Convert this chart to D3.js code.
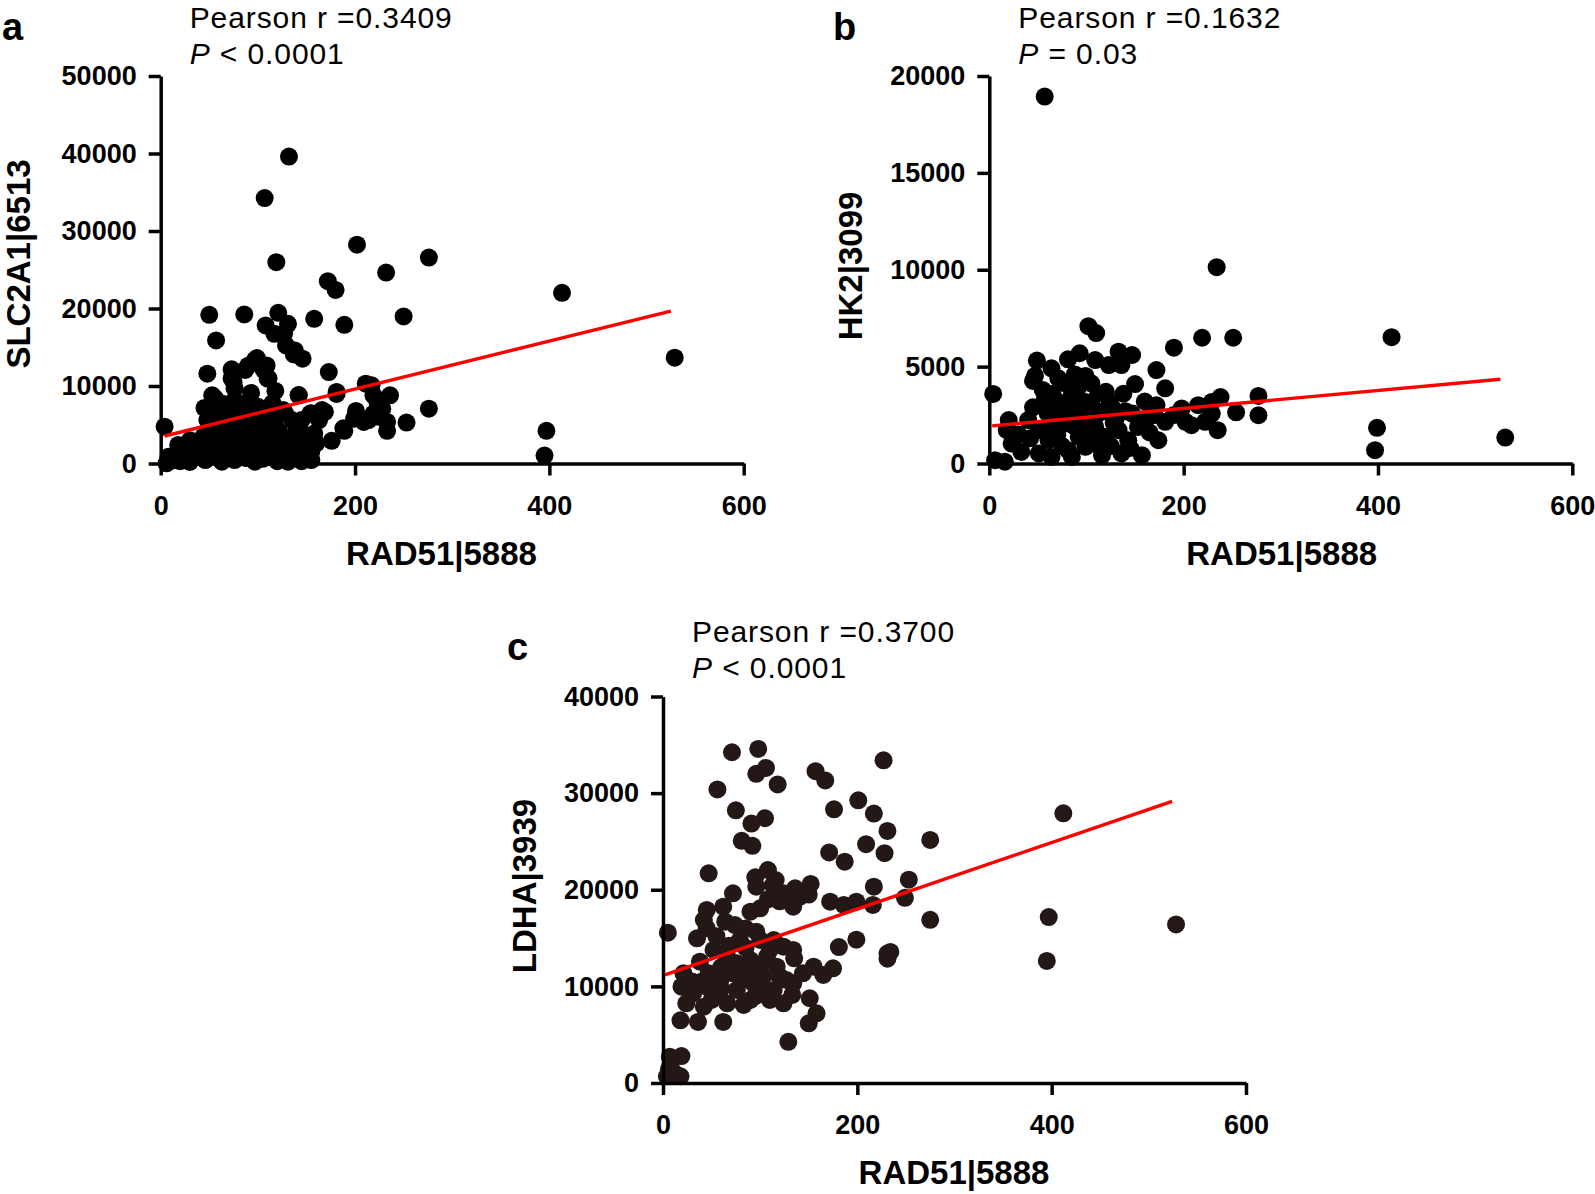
<!DOCTYPE html>
<html>
<head>
<meta charset="utf-8">
<script src="https://cdn.jsdelivr.net/npm/d3@7"></script>
<style>
  body { margin: 0; background: #fff; }
  text { font-family: Arial, "Liberation Sans", sans-serif; }
</style>
</head>
<body>
<div id="chart"></div>
<script>
// x ticks are shared by all three panels
var xTicks = [0, 200, 400, 600];

// panel a: RAD51 vs SLC2A1
var pointsA = [
  [132,39600],[107,34250],[202,28240],[119,25970],[276,26570],[232,24640],[172,23520],[180,22400],[413,22020],
  [50,19190],[86,19230],[121,19440],[158,18670],[250,18970],[529,13650],[276,7080],[236,8800],[233,5370],
  [253,5280],[233,4210],[397,4210],[395,1030],
  [189,17900],[108,17810],[131,18030],[117,16740],[127,16820],[57,15880],[129,15240],[138,14590],[137,14080],
  [146,13520],[99,13600],[90,12620],[109,12660],[73,12150],[48,11590],[173,11800],[110,10940],[75,10520],
  [211,10300],[217,10090],[118,9360],[93,9100],[53,8800],[142,8800],[181,9230],[219,8800],[223,7940],[45,7170],
  [201,6780],[228,7080],[169,6650],[154,6440],[199,5790],[219,6440],[209,5370],[189,4210],[176,2920],[158,3860],
  [4,4750],[18,2390],[28,1960],[44,3460],[8,880],[6,20],[35,880],[56,1310],[52,4320],[63,5610],[73,5610],
  [68,7330],[76,8190],[87,7330],[100,7330],[107,6470],[83,4750],[97,4320],[70,3460],[80,2170],[90,1310],
  [104,2600],[111,3890],[118,4750],[124,3460],[135,3030],[147,2820],[155,1530],[131,1310],[114,880],[76,450],
  [63,230],[46,450],[97,230],[124,1310],[138,880],[145,5610],[155,6470],[166,6900],[118,6040],[128,6470],
  [135,5610],[126,6900],[73,10990],[76,9700],[56,8410],[46,7110],[87,12070],[97,13360],[106,12070],[111,10990],
  [142,8840],[181,8970],[214,5610],[224,6040],[188,4540],[163,5610],[94,5610],[63,2170],[56,3460],[39,1310],
  [25,450],[15,1100],[155,450],[131,230],[83,1310],[73,1530],[111,2170],[100,1310],[86,5000],[92,3300],
  [60,6300],[110,5200],[66,4000],[78,3000],[88,2500],[95,3700],[102,4800],[85,6200],[70,6500],[60,2800],
  [50,2300],[42,1800],[68,900],[88,700],[105,600],[120,2000],[132,2300],[140,1900],[120,300],[145,300],
  [20,300],[30,200],[12,400],[50,1000],[80,3800],[92,8200],[115,7800],
  [58,5000],[75,4700],[90,4000],[100,3500],[115,3000],[125,2500],[72,2400],[85,1800],[60,1600],[40,2600],
  [30,3000],[48,5600],[64,7700],[95,6500],[108,1600],[122,4100],[140,4300],[150,3600],[160,2600],[20,1500],
  [35,2800]
];
var fitA = [[4,3550],[525,19650]];
var yTicksA = [0, 10000, 20000, 30000, 40000, 50000];

// panel b: RAD51 vs HK2
var pointsB = [
  [57,18940],[234,10130],[102,7090],[110,6730],[219,6490],[251,6490],[414,6520],[190,5980],[399,1840],
  [397,690],[531,1340],[277,3490],[277,2490],[254,2640],[238,3430],[235,1720],
  [4,3590],[49,5310],[81,5380],[93,5690],[109,5340],[123,5080],[133,5770],[147,5600],[136,5080],[172,4820],
  [181,3880],[47,4520],[45,4260],[64,4910],[71,4400],[78,4140],[99,4520],[105,4140],[92,3970],[57,3270],
  [71,3180],[85,3530],[99,3180],[105,3010],[124,3180],[116,2670],[127,2840],[172,3010],[198,2840],[215,3010],
  [229,3180],[181,2150],[202,2150],[208,1980],[222,2150],[229,2580],[20,2240],[18,1720],[23,1030],[33,600],
  [40,2240],[51,1720],[61,1200],[51,520],[68,2240],[81,2070],[92,1380],[99,860],[81,690],[109,1890],
  [119,1380],[133,1720],[143,1200],[153,1890],[164,2410],[174,1200],[157,430],[136,520],[116,430],[85,340],
  [64,340],[6,170],[16,90],[157,2240],[147,2580],
  [60,2600],[75,2700],[88,2900],[95,2300],[110,2500],[128,2100],[140,2700],[30,1500],[42,1300],[70,1500],
  [88,1900],[102,1500],[125,900],[145,800],[165,1600],[75,900],[110,1000],[55,3800],[65,3600],[88,4600],
  [112,3600],[138,3600],[160,3200],[150,4100],
  [130,2300],[120,3700],[100,2000],[85,2200],[60,1700],[45,2900],[170,2500],[190,2500]
];
var fitB = [[3,1940],[526,4350]];
var yTicksB = [0, 5000, 10000, 15000, 20000];

// panel c: RAD51 vs LDHA
var pointsC = [
  [71,34230],[98,34570],[227,33400],[106,32610],[96,32000],[157,32270],[167,31310],[118,30900],[56,30380],
  [201,29250],[75,28220],[176,28320],[217,27880],[412,27910],[105,27400],[91,26850],[231,26090],[81,25060],
  [92,24550],[275,25160],[209,24720],[228,23790],[171,23860],[187,22900],[47,21700],[108,22040],[95,21290],
  [116,21010],[253,21040],[152,20600],[217,20320],[249,19160],[275,16890],[397,17170],[528,16410],[395,12630],
  [199,14830],[181,14070],[231,13390],[234,13560],[231,12870],
  [5,15560],[96,20320],[113,20490],[124,19630],[136,20150],[141,19280],[134,18250],[172,18770],[186,18430],
  [199,18770],[216,18430],[90,17730],[100,18080],[72,19630],[62,18250],[45,17910],[42,16870],[45,16010],
  [35,14970],[64,16700],[74,16350],[79,14800],[96,15660],[100,14800],[114,14800],[124,14110],[134,13770],
  [52,13770],[38,12560],[21,11350],[19,9970],[66,13080],[76,12390],[90,12730],[107,13080],[117,12040],
  [47,11350],[59,10660],[72,11350],[86,11350],[103,11010],[45,9970],[31,9280],[55,9280],[76,9630],[93,10320],
  [114,9630],[127,10660],[134,10320],[133,9110],[110,8590],[124,8250],[24,8250],[42,7900],[66,8250],[83,8080],
  [144,11350],[155,12040],[165,11180],[175,11870],[151,8770],[158,7210],[150,6180],[18,6490],[36,6320],
  [62,6320],[129,4260],[7,2720],[19,2790],[6,1380],[18,690],[4,690],
  [85,14000],[60,12000],[100,12200],[120,11000],[60,9800],[95,9000],[40,10500],[80,10600],[110,13800],
  [85,16000],[108,19000],[120,18800],[128,18900],[55,15200],[68,14200],[30,10500],[50,8600],[100,9700],
  [90,8600],[150,19500],[135,12900],[8,2000],[12,1000]
];
var fitC = [[2,11200],[524,29150]];
var yTicksC = [0, 10000, 20000, 30000, 40000];

var w = 1595;
var h = 1194;

var svg = d3.select("#chart")
  .append("svg")
  .attr("width", w)
  .attr("height", h);

// one scatter panel with its own axes, fit line and labels
function panel(opt) {
  var xScale = d3.scaleLinear()
    .domain([0, 600])
    .range([opt.left, opt.right]);

  var yScale = d3.scaleLinear()
    .domain([0, opt.yMax])
    .range([opt.bottom, opt.top]);

  var g = svg.append("g");

  // dots
  g.append("g")
    .selectAll("circle")
    .data(opt.points)
    .enter()
    .append("circle")
    .attr("cx", function(d) { return xScale(d[0]); })
    .attr("cy", function(d) { return yScale(d[1]); })
    .attr("r", 9)
    .style("fill", opt.dot);

  // regression line on top of the dots
  var line = d3.line()
    .x(function(d) { return xScale(d[0]); })
    .y(function(d) { return yScale(d[1]); });

  g.append("path")
    .datum(opt.fit)
    .attr("d", line)
    .style("fill", "none")
    .style("stroke", "#ff0000")
    .style("stroke-width", 3.4);

  // axes
  var xAxis = g.append("g")
    .attr("transform", "translate(0," + opt.bottom + ")")
    .call(d3.axisBottom(xScale).tickValues(xTicks).tickFormat(d3.format("d"))
      .tickSize(12).tickSizeOuter(0).tickPadding(20));

  var yAxis = g.append("g")
    .attr("transform", "translate(" + opt.left + ",0)")
    .call(d3.axisLeft(yScale).tickValues(opt.yTicks).tickFormat(d3.format("d"))
      .tickSize(12).tickSizeOuter(0).tickPadding(12));

  [xAxis, yAxis].forEach(function(ax) {
    ax.select(".domain").style("stroke", "#000").style("stroke-width", 3.5);
    ax.selectAll(".tick line").style("stroke", "#000").style("stroke-width", 3.5);
    ax.selectAll(".tick text")
      .style("font-family", "Arial, 'Liberation Sans', sans-serif")
      .style("font-size", "27px")
      .style("font-weight", "bold")
      .style("fill", "#000");
  });

  // x axis title
  g.append("text")
    .attr("x", opt.xTitleX)
    .attr("y", opt.bottom + 101)
    .attr("text-anchor", "middle")
    .style("font-size", "33px")
    .style("font-weight", "bold")
    .text("RAD51|5888");

  // y axis title
  g.append("text")
    .attr("text-anchor", "middle")
    .attr("transform", "translate(" + (opt.left + opt.yTitleDx) + "," + opt.yTitleY + ")rotate(-90)")
    .style("font-size", "33px")
    .style("font-weight", "bold")
    .text(opt.yTitle);

  // panel letter
  g.append("text")
    .attr("x", opt.letterX)
    .attr("y", opt.letterY)
    .style("font-size", "38px")
    .style("font-weight", "bold")
    .text(opt.letter);

  // statistics
  g.append("text")
    .attr("x", opt.left + 29)
    .attr("y", opt.statY)
    .style("font-size", "30px")
    .style("letter-spacing", "0.9px")
    .text("Pearson r =" + opt.r);

  var p = g.append("text")
    .attr("x", opt.left + 29)
    .attr("y", opt.statY + 36)
    .style("font-size", "30px")
    .style("letter-spacing", "0.9px");
  p.append("tspan").style("font-style", "italic").text("P");
  p.append("tspan").text(" " + opt.p);
}

panel({
  points: pointsA, fit: fitA, yTicks: yTicksA, yMax: 50000,
  left: 160.7, right: 743.7, top: 76, bottom: 463.5, dot: "#000",
  xTitleX: 441.5, yTitle: "SLC2A1|6513", yTitleDx: -131, yTitleY: 264,
  letter: "a", letterX: 2, letterY: 40,
  statY: 27.5, r: "0.3409", p: "< 0.0001"
});

panel({
  points: pointsB, fit: fitB, yTicks: yTicksB, yMax: 20000,
  left: 989.3, right: 1572.3, top: 76, bottom: 463.5, dot: "#000",
  xTitleX: 1281.7, yTitle: "HK2|3099", yTitleDx: -127, yTitleY: 266,
  letter: "b", letterX: 833, letterY: 40,
  statY: 27.5, r: "0.1632", p: "= 0.03"
});

panel({
  points: pointsC, fit: fitC, yTicks: yTicksC, yMax: 40000,
  left: 663, right: 1246, top: 696.5, bottom: 1083, dot: "#231815",
  xTitleX: 954, yTitle: "LDHA|3939", yTitleDx: -127, yTitleY: 886,
  letter: "c", letterX: 507, letterY: 660,
  statY: 642, r: "0.3700", p: "< 0.0001"
});
</script>
</body>
</html>
